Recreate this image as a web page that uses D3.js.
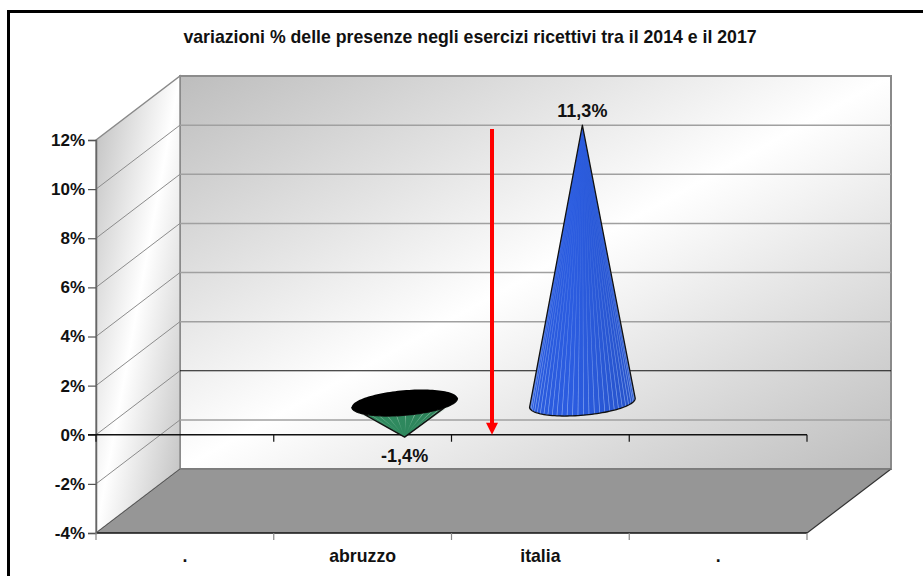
<!DOCTYPE html>
<html>
<head>
<meta charset="utf-8">
<script src="https://cdn.jsdelivr.net/npm/d3@7/dist/d3.min.js"></script>
<style>
  html, body { margin: 0; padding: 0; background: #fff; }
  svg { display: block; }
  text { font-family: "Liberation Sans", Arial, sans-serif; font-weight: bold; fill: #111; }
</style>
</head>
<body>
<script>
const chartTitle = "variazioni % delle presenze negli esercizi ricettivi tra il 2014 e il 2017";
const categories = [".", "abruzzo", "italia", "."];
const values = [null, -1.4, 11.3, null];
const valueLabels = ["", "-1,4%", "11,3%", ""];
const yTicks = [-4, -2, 0, 2, 4, 6, 8, 10, 12];
const coneColors = [null, "#2f8a5f", "#2b5ce0", null];
const ribColors = [null, "#cfe8d8", "#a9c4f7", null];

const W = 923, H = 576;
const depth = { x: 84, y: -64 };

const svg = d3.select("body").append("svg").attr("width", W).attr("height", H);
const defs = svg.append("defs");

const x = d3.scaleBand().domain(d3.range(categories.length)).range([96, 807]).paddingInner(0).paddingOuter(0);
const y = d3.scaleLinear().domain([-4, 12]).range([533, 140]);

const poly = pts => pts.map(p => p.join(",")).join(" ");

// Diagonal sheen shared by the back and side walls
const wall = defs.append("linearGradient").attr("id", "wallFill")
  .attr("x1", 0).attr("y1", 0).attr("x2", 1).attr("y2", 1);
[[0, "#bdbdbd"], [0.5, "#ffffff"], [1, "#bdbdbd"]].forEach(([o, c]) =>
  wall.append("stop").attr("offset", o).attr("stop-color", c));

// Outer frame, open past the window's right and bottom edges
svg.append("rect").attr("x", 8.5).attr("y", 11.5).attr("width", W + 20).attr("height", H + 20)
  .attr("fill", "#fff").attr("stroke", "#000").attr("stroke-width", 3);

svg.append("text").attr("x", 470).attr("y", 43).attr("text-anchor", "middle")
  .style("font-size", "17.7px").text(chartTitle);

const [x0, x1] = x.range();
const yTop = y(12), yBot = y(-4);

// Walls and floor of the 3D box
svg.append("polygon").attr("points", poly([[x0 + depth.x, yTop + depth.y], [x1 + depth.x, yTop + depth.y], [x1 + depth.x, yBot + depth.y], [x0 + depth.x, yBot + depth.y]]))
  .attr("fill", "url(#wallFill)").attr("stroke", "#8a8a8a").attr("stroke-width", 2);
svg.append("polygon").attr("points", poly([[x0, yTop], [x0 + depth.x, yTop + depth.y], [x0 + depth.x, yBot + depth.y], [x0, yBot]]))
  .attr("fill", "url(#wallFill)").attr("stroke", "#8a8a8a").attr("stroke-width", 1.5);
svg.append("polygon").attr("points", poly([[x0, yBot], [x0 + depth.x, yBot + depth.y], [x1 + depth.x, yBot + depth.y], [x1, yBot]]))
  .attr("fill", "#969696");

// Gridlines run along the side wall and across the back wall
const grid = svg.append("g");
yTicks.filter(t => t > -4 && t < 12).forEach(t => {
  grid.append("line").attr("x1", x0).attr("y1", y(t)).attr("x2", x0 + depth.x).attr("y2", y(t) + depth.y)
    .attr("stroke", "#8c8c8c").attr("stroke-width", 1);
  grid.append("line").attr("x1", x0 + depth.x).attr("y1", y(t) + depth.y).attr("x2", x1 + depth.x).attr("y2", y(t) + depth.y)
    .attr("stroke", t === 0 ? "#111" : "#a0a0a0").attr("stroke-width", t === 0 ? 1.2 : 1.5);
});
grid.append("line").attr("x1", x0 + depth.x).attr("y1", yTop + depth.y).attr("x2", x1 + depth.x).attr("y2", yTop + depth.y)
  .attr("stroke", "#8c8c8c").attr("stroke-width", 2);

// Floor edges
svg.append("line").attr("x1", x0).attr("y1", yBot).attr("x2", x0 + depth.x).attr("y2", yBot + depth.y).attr("stroke", "#555").attr("stroke-width", 1);
svg.append("line").attr("x1", x1).attr("y1", yBot).attr("x2", x1 + depth.x).attr("y2", yBot + depth.y).attr("stroke", "#333").attr("stroke-width", 1.2);
svg.append("line").attr("x1", x0 + depth.x).attr("y1", yBot + depth.y).attr("x2", x1 + depth.x).attr("y2", yBot + depth.y).attr("stroke", "#777").attr("stroke-width", 1.5);
svg.append("line").attr("x1", x0).attr("y1", yBot).attr("x2", x1).attr("y2", yBot).attr("stroke", "#111").attr("stroke-width", 1.5);

// Value axis
const yAxis = d3.axisLeft(y).tickValues(yTicks).tickFormat(d => d + "%").tickSize(8).tickPadding(3);
const gy = svg.append("g").attr("transform", `translate(${x0},0)`).call(yAxis);
gy.select(".domain").attr("stroke", "#666").attr("stroke-width", 1.5);
gy.selectAll(".tick line").attr("stroke", "#555").attr("stroke-width", 1.2);
gy.selectAll("text").style("font-size", "17px");

// Category boundary ticks on the zero line and under the floor
const boundaries = d3.range(categories.length + 1).map(i => x0 + i * x.step());
[[y(0), "#111"], [yBot, "#888"]].forEach(([yy, col]) => {
  svg.selectAll(null).data(boundaries).enter().append("line")
    .attr("x1", d => d).attr("x2", d => d).attr("y1", yy).attr("y2", yy + 7)
    .attr("stroke", col).attr("stroke-width", 1.2);
});
svg.append("line").attr("x1", 88).attr("x2", x1).attr("y1", y(0)).attr("y2", y(0)).attr("stroke", "#111").attr("stroke-width", 1.5);

// Category labels
svg.selectAll(null).data(categories).enter().append("text")
  .attr("x", (d, i) => x(i) + x.bandwidth() / 2)
  .attr("y", 562).attr("text-anchor", "middle")
  .style("font-size", "17.7px").text(d => d);

// Cones stand at mid-depth with their base ellipse on the zero plane
const rad = -5 * Math.PI / 180;
const rx = 53, ry = 12.5;

values.forEach((v, i) => {
  if (v === null) return;
  const cx = x(i) + x.bandwidth() / 2 + depth.x / 2;
  const cy = y(0) + depth.y / 2;
  const apexY = y(v) + depth.y / 2;
  const ell = a => {
    const ex = rx * Math.cos(a), ey = ry * Math.sin(a);
    return [cx + ex * Math.cos(rad) - ey * Math.sin(rad), cy + ex * Math.sin(rad) + ey * Math.cos(rad)];
  };
  const g = svg.append("g");
  const color = d3.color(coneColors[i]);
  const grad = defs.append("linearGradient").attr("id", "cone" + i).attr("x1", 0).attr("x2", 1).attr("y1", 0).attr("y2", 0);
  [[0, color.darker(0.05)], [0.4, color], [1, color.darker(0.3)]].forEach(([o, c]) =>
    grad.append("stop").attr("offset", o).attr("stop-color", c));

  const upright = v >= 0;

  // Facet seams fade out toward the tip, where they would otherwise merge
  const seamFade = defs.append("linearGradient").attr("id", "seam" + i)
    .attr("gradientUnits", "userSpaceOnUse")
    .attr("x1", 0).attr("x2", 0).attr("y1", apexY).attr("y2", cy + ry);
  [[0, 0], [0.25, 0.12], [1, upright ? 0.75 : 0.7]].forEach(([o, a]) =>
    seamFade.append("stop").attr("offset", o).attr("stop-color", ribColors[i]).attr("stop-opacity", a));

  const ribStep = Math.PI / (upright ? 30 : 18);
  const ribs = d3.range(ribStep, Math.PI - ribStep / 2, ribStep);
  const line = d3.line();
  const front = d3.range(0, Math.PI + 1e-6, Math.PI / 60).map(ell);
  const silhouette = line([[cx, apexY], ...front]) + "Z";

  g.append("path").attr("d", silhouette).attr("fill", `url(#cone${i})`);

  // Polygons rather than lines: a gradient stroke on a perfectly vertical line has an empty box
  g.selectAll("polygon").data(ribs).enter().append("polygon")
    .attr("points", a => {
      const [ex, ey] = ell(a);
      return poly([[cx, apexY], [ex - 0.35, ey], [ex + 0.35, ey]]);
    })
    .attr("fill", `url(#seam${i})`);

  g.append("path").attr("d", silhouette).attr("fill", "none")
    .attr("stroke", "#111").attr("stroke-width", 1.3).attr("stroke-linejoin", "round");

  if (!upright) {
    // Inverted cone: the open base is seen from above, drawn as a black cap
    const cap = d3.range(0, Math.PI * 2, Math.PI / 60).map(ell);
    g.append("path").attr("d", line(cap) + "Z").attr("fill", "#000");
  }
  svg.append("text").attr("x", cx).attr("text-anchor", "middle")
    .attr("y", upright ? apexY - 8 : apexY + 25)
    .style("font-size", "18px").text(valueLabels[i]);
});

// Red annotation arrow pointing down to the zero line
const arrowX = 492;
const arrowTop = y(12.45);
const arrowTip = y(0);
svg.append("line").attr("x1", arrowX).attr("x2", arrowX).attr("y1", arrowTop).attr("y2", arrowTip - 8)
  .attr("stroke", "#ff0000").attr("stroke-width", 4);
svg.append("polygon").attr("points", poly([[arrowX - 6, arrowTip - 12], [arrowX + 6, arrowTip - 12], [arrowX, arrowTip]]))
  .attr("fill", "#ff0000");
</script>
</body>
</html>
